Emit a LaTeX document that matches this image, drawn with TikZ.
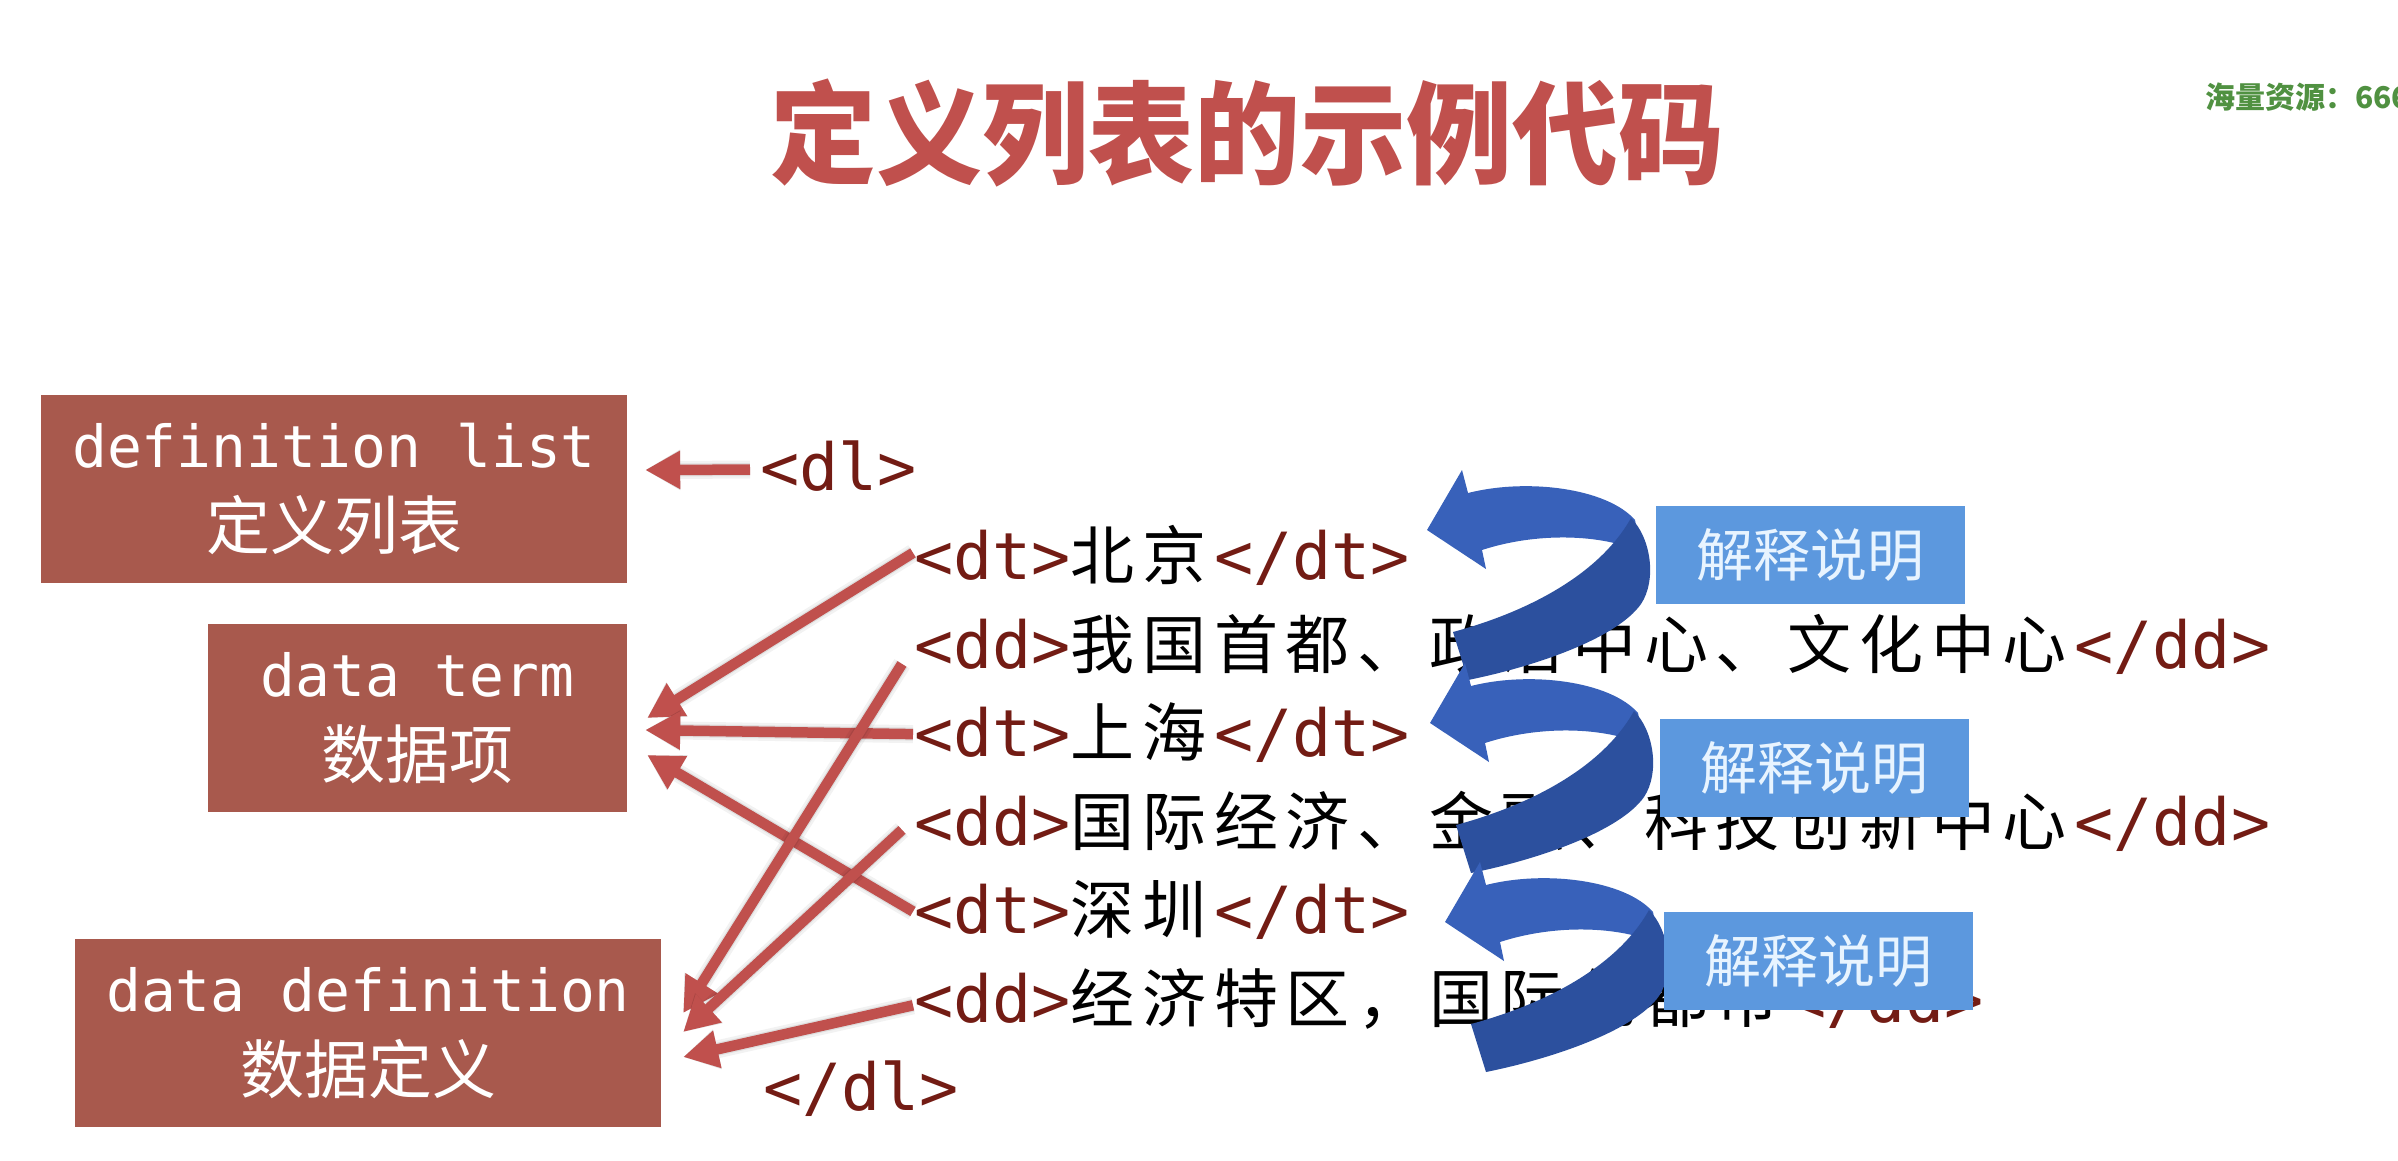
\documentclass[tikz,border=0pt]{standalone}
\usepackage{fontspec}
\setmainfont{DejaVu Sans}
\usetikzlibrary{arrows.meta,calc}

\newfontfamily\monof{DejaVu Sans Mono}
\newfontfamily\cjkf{Noto Sans CJK SC}

\definecolor{titlered}{RGB}{192,80,77}
\definecolor{boxred}{RGB}{168,89,77}
\definecolor{arrowred}{RGB}{192,80,77}
\definecolor{tagred}{RGB}{115,28,20}
\definecolor{swirllight}{RGB}{56,97,186}
\definecolor{swirldark}{RGB}{44,80,158}
\definecolor{noteblue}{RGB}{92,152,222}
\definecolor{notetext}{RGB}{232,244,255}
\definecolor{wmgreen}{RGB}{80,145,65}

% set Chinese characters one by one, each in a cell of fixed width
\makeatletter
\newcommand\cjkcells[2]{\@tfor\cjkch:=#2\do{\makebox[#1][l]{\cjkch}}}
\makeatother

% code fragments: tags in mono, Chinese text on a fixed pitch
\newcommand\tg[1]{{\monof\fontsize{65}{70}\selectfont\color{tagred}#1}}
\newcommand\cn[1]{{\cjkf\fontsize{64}{70}\selectfont\cjkcells{71.7pt}{#1}}}

% twisted ribbon arrow pointing left, anchored at its tip
\newcommand\swirlat[2]{%
  \begin{scope}[shift={(#1,#2)}]
    \fill[swirllight] (0,0) -- (35,-60) -- (41,-37)
      .. controls (100,-52) and (180,-42) .. (208,-10) -- (214,22)
      .. controls (175,4) and (110,2) .. (55,20) -- (59,39) -- cycle;
    \fill[swirldark] (204,-12) .. controls (224,8) and (230,50) .. (214,74)
      .. controls (190,108) and (110,136) .. (41,150) -- (26,102)
      .. controls (100,82) and (172,45) .. (204,-12) -- cycle;
  \end{scope}}

% red pointer with a soft shadow underneath
\newcommand\pointer[2]{%
  \begin{scope}[shift={(4,6)}]
    \draw[redshadow, line width=18pt, opacity=0.05] #1 -- #2;
    \draw[redshadow, line width=13pt, opacity=0.08] #1 -- #2;
  \end{scope}
  \draw[redarrow] #1 -- #2;}

\tikzset{
  termbox/.style={fill=boxred, text=white, inner sep=0pt, align=center, minimum height=188pt,
    font=\fontsize{58}{82}\selectfont},
  code/.style={anchor=base west, inner sep=0pt, text=black},
  redarrow/.style={draw=arrowred, line width=10.5pt, -{Triangle[length=35pt,width=36pt]}},
  redshadow/.style={draw=black, -{Triangle[length=35pt,width=38pt]}},
  notebox/.style={fill=noteblue, text=notetext, minimum width=309pt, minimum height=98pt,
    inner sep=0pt, font=\cjkf\fontsize{57}{60}\selectfont},
}

\begin{document}
\begin{tikzpicture}[x=1pt,y=-1pt]
  \fill[white] (0,0) rectangle (2398,1160);
  \useasboundingbox (0,0) rectangle (2398,1160);

  % heading and corner mark
  \node[text=titlered, inner sep=0pt, font=\cjkf\bfseries\fontsize{106}{110}\selectfont]
    (title) at (1247,133) {\scalebox{1}[1.05]{定义列表的示例代码}};
  \node[anchor=west, inner sep=0pt, text=wmgreen, font=\cjkf\bfseries\fontsize{30}{31}\selectfont]
    (wm) at (2205,97) {海量资源：666};

  % term boxes
  \node[termbox, minimum width=586pt] (dl) at (334,489)
    {{\monof definition list}\\{\cjkf\fontsize{64}{82}\selectfont 定义列表}};
  \node[termbox, minimum width=419pt] (dt) at (417.5,718)
    {{\monof data term}\\{\cjkf\fontsize{64}{82}\selectfont 数据项}};
  \node[termbox, minimum width=586pt] (dd) at (368,1033)
    {{\monof data definition}\\{\cjkf\fontsize{64}{82}\selectfont 数据定义}};

  % the code listing
  \node[code] (r0) at (760,490)  {\tg{<dl>}};
  \node[code] (r1) at (914,579)  {\tg{<dt>}\cn{北京}\tg{</dt>}};
  \node[code] (r2) at (914,668)  {\tg{<dd>}\cn{我国首都、政治中心、文化中心}\tg{</dd>}};
  \node[code] (r3) at (914,756)  {\tg{<dt>}\cn{上海}\tg{</dt>}};
  \node[code] (r4) at (914,845)  {\tg{<dd>}\cn{国际经济、金融、科技创新中心}\tg{</dd>}};
  \node[code] (r5) at (914,933)  {\tg{<dt>}\cn{深圳}\tg{</dt>}};
  \node[code] (r6) at (914,1022) {\tg{<dd>}\cn{经济特区，国际化都市}\tg{</dd>}};
  \node[code] (r7) at (763,1110) {\tg{</dl>}};

  % pointers from the tags to their names
  \pointer{($(r0.west)+(-10,4)$)}{($(dl.east)+(18,-19)$)}
  \pointer{($(r1.west)+(-1,-2)$)}{($(dt.east)+(20,0)$)}
  \pointer{($(r3.west)+(-1,2)$)}{($(dt.east)+(18,12)$)}
  \pointer{($(r5.west)+(-1,2)$)}{($(dt.east)+(20,37)$)}
  \pointer{($(r2.west)+(-12,20)$)}{($(dd.east)+(22,-20)$)}
  \pointer{($(r4.west)+(-12,9)$)}{($(dd.east)+(22,-1)$)}
  \pointer{($(r6.west)+(-1,7)$)}{($(dd.east)+(22,24)$)}

  % ribbon arrows
  \swirlat{1427}{530}
  \swirlat{1430}{723}
  \swirlat{1445}{922}

  % explanation labels
  \node[notebox] (n1) at (1810,555) {解释说明};
  \node[notebox] (n2) at (1814,768) {解释说明};
  \node[notebox] (n3) at (1818,961) {解释说明};
\end{tikzpicture}
\end{document}
